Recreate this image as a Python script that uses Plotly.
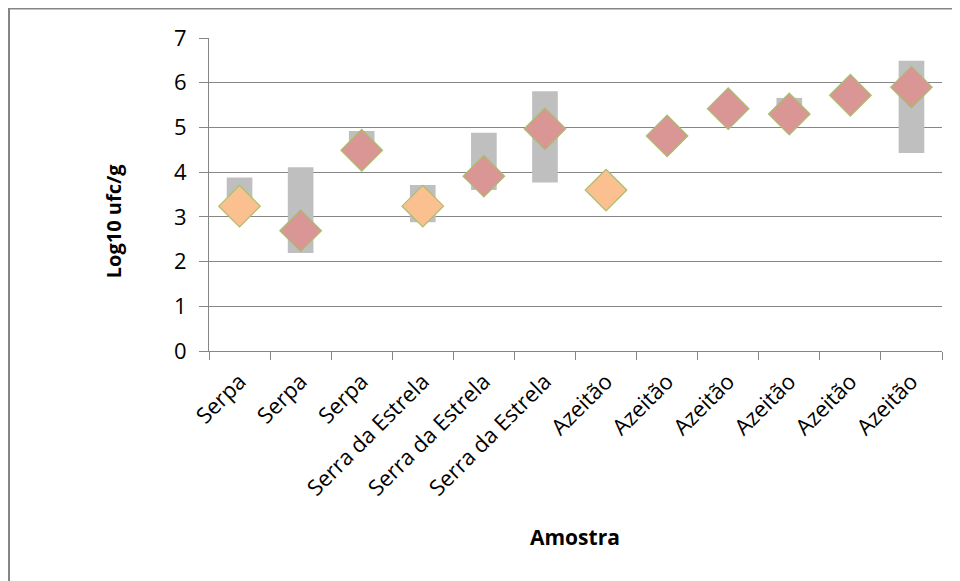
import plotly.graph_objects as go

categories = ["Serpa", "Serpa", "Serpa", "Serra da Estrela", "Serra da Estrela",
              "Serra da Estrela", "Azeitão", "Azeitão", "Azeitão", "Azeitão",
              "Azeitão", "Azeitão"]
mean_values = [3.24, 2.69, 4.49, 3.24, 3.91, 4.97, 3.60, 4.81, 5.42, 5.30, 5.72, 5.90]
min_values = [3.10, 2.19, 4.30, 2.88, 3.60, 3.77, 3.42, 4.70, 5.30, 5.10, 5.60, 4.43]
max_values = [3.88, 4.11, 4.92, 3.71, 4.88, 5.81, 3.70, 4.90, 5.50, 5.66, 5.80, 6.49]
point_kind = ["o", "r", "r", "o", "r", "r", "o", "r", "r", "r", "r", "r"]
y_ticks = [0, 1, 2, 3, 4, 5, 6, 7]

ORANGE = "#FAC090"
RED = "#D99694"
x_ids = ["s%d" % i for i in range(len(categories))]

fig = go.Figure()
fig.add_trace(go.Bar(
    x=x_ids,
    base=min_values,
    y=[hi - lo for hi, lo in zip(max_values, min_values)],
    width=0.42,
    marker=dict(color="#BFBFBF", line=dict(width=0)),
    hoverinfo="skip",
    showlegend=False,
))
fig.add_trace(go.Scatter(
    x=x_ids,
    y=mean_values,
    mode="markers",
    marker=dict(symbol="diamond", size=32,
                color=[ORANGE if k == "o" else RED for k in point_kind],
                line=dict(color="#A9BF6E", width=1.2)),
    showlegend=False,
))

# the page body has an 8px margin, so figure px = page px - 8
OFF = 8
W, H = 960, 581
ml, mt = 209 - OFF, 38 - OFF
plot_w, plot_h = 733, 312.7
mr = W - ml - plot_w
mb = H - mt - plot_h


def px_x(p):
    return (p - OFF - ml) / plot_w


def px_y(p):
    return 1 - (p - OFF - mt) / plot_h


fig.update_layout(
    width=W, height=H,
    margin=dict(l=ml, r=mr, t=mt, b=mb, pad=0),
    paper_bgcolor="white", plot_bgcolor="white",
    font=dict(family="Open Sans", color="#000000"),
    xaxis=dict(
        type="category",
        tickmode="array", tickvals=x_ids, ticktext=categories,
        range=[-0.5, len(categories) - 0.5],
        tickangle=-45, tickfont=dict(size=22),
        showgrid=False, showline=True, linecolor="#868686", linewidth=1,
        ticks="outside", ticklen=8, tickcolor="#868686", tickson="boundaries",
        ticklabelstandoff=8,
        zeroline=False,
    ),
    yaxis=dict(
        range=[0, 7], tickvals=y_ticks, tickfont=dict(size=22),
        showgrid=True, gridcolor="#868686", gridwidth=1,
        showline=True, linecolor="#868686", linewidth=1,
        ticks="outside", ticklen=9, tickcolor="#868686",
        ticklabelstandoff=8,
        zeroline=False,
    ),
    annotations=[
        dict(text="<b>Amostra</b>", xref="paper", yref="paper",
             x=px_x(575), y=px_y(537), showarrow=False,
             xanchor="center", yanchor="middle", font=dict(size=21)),
        dict(text="<b>Log10 ufc/g</b>", xref="paper", yref="paper",
             x=px_x(113), y=px_y(221), showarrow=False, textangle=-90,
             xanchor="center", yanchor="middle", font=dict(size=20)),
    ],
    shapes=[
        dict(type="line", xref="paper", yref="paper",
             x0=px_x(9), x1=px_x(970), y0=px_y(8.5), y1=px_y(8.5),
             line=dict(color="#858585", width=2)),
        dict(type="line", xref="paper", yref="paper",
             x0=px_x(9), x1=px_x(9), y0=px_y(8), y1=px_y(600),
             line=dict(color="#858585", width=2)),
    ],
)

fig.write_html("out.html")
